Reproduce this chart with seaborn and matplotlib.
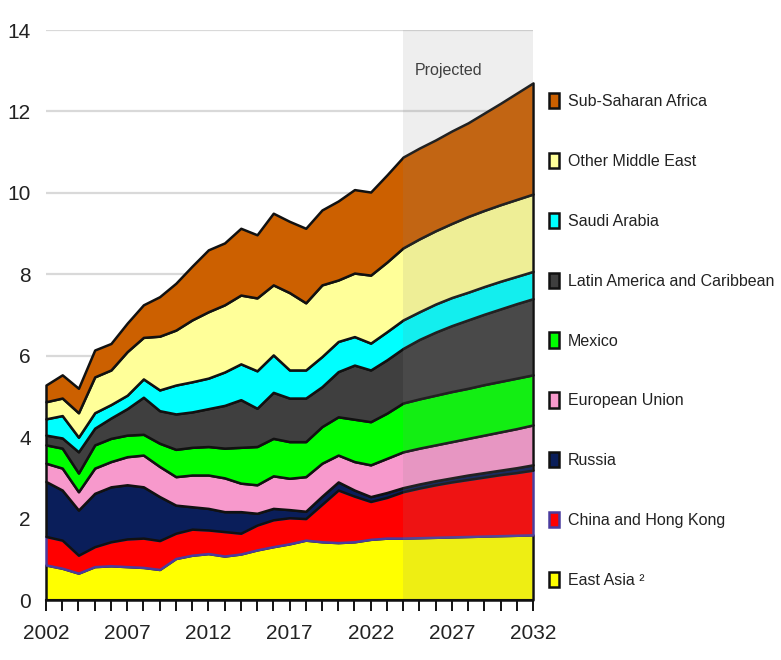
import matplotlib
matplotlib.use("Agg")
import matplotlib.pyplot as plt
import seaborn as sns

years = list(range(2002, 2033))
projection_start = 2024

east_asia = [0.86, 0.78, 0.66, 0.82, 0.84, 0.82, 0.80, 0.75, 1.02, 1.10, 1.14, 1.08, 1.13, 1.23, 1.31, 1.38,
             1.47, 1.43, 1.41, 1.43, 1.49, 1.52, 1.52, 1.53, 1.54, 1.55, 1.56, 1.57, 1.58, 1.59, 1.60]
china_hk = [0.70, 0.69, 0.44, 0.49, 0.59, 0.68, 0.72, 0.71, 0.62, 0.64, 0.58, 0.60, 0.51, 0.61, 0.66, 0.64,
            0.53, 0.92, 1.29, 1.12, 0.93, 1.00, 1.14, 1.22, 1.29, 1.35, 1.40, 1.45, 1.50, 1.54, 1.59]
russia = [1.35, 1.23, 1.11, 1.31, 1.35, 1.33, 1.26, 1.08, 0.69, 0.55, 0.53, 0.49, 0.53, 0.29, 0.28, 0.20,
          0.18, 0.20, 0.20, 0.15, 0.12, 0.12, 0.10, 0.10, 0.10, 0.10, 0.11, 0.11, 0.11, 0.12, 0.13]
european_union = [0.45, 0.54, 0.45, 0.62, 0.62, 0.69, 0.78, 0.74, 0.70, 0.78, 0.82, 0.83, 0.70, 0.70, 0.80, 0.77,
                  0.85, 0.81, 0.66, 0.70, 0.78, 0.84, 0.88, 0.88, 0.88, 0.89, 0.90, 0.92, 0.94, 0.96, 0.98]
mexico = [0.45, 0.49, 0.46, 0.57, 0.57, 0.53, 0.51, 0.57, 0.67, 0.68, 0.70, 0.73, 0.88, 0.94, 0.92, 0.90,
          0.86, 0.90, 0.94, 1.04, 1.06, 1.11, 1.20, 1.21, 1.22, 1.23, 1.23, 1.24, 1.24, 1.24, 1.23]
latin_america = [0.24, 0.25, 0.52, 0.41, 0.50, 0.65, 0.91, 0.80, 0.87, 0.87, 0.93, 1.05, 1.17, 0.94, 1.13, 1.07,
                 1.07, 0.98, 1.11, 1.33, 1.27, 1.31, 1.34, 1.46, 1.55, 1.62, 1.68, 1.73, 1.78, 1.83, 1.87]
saudi_arabia = [0.40, 0.55, 0.36, 0.38, 0.33, 0.33, 0.45, 0.51, 0.71, 0.74, 0.75, 0.82, 0.88, 0.92, 0.92, 0.69,
                0.69, 0.74, 0.74, 0.70, 0.66, 0.69, 0.70, 0.68, 0.69, 0.69, 0.68, 0.68, 0.68, 0.67, 0.67]
other_middle_east = [0.42, 0.43, 0.60, 0.88, 0.85, 1.07, 1.02, 1.32, 1.35, 1.52, 1.63, 1.65, 1.69, 1.79, 1.72, 1.90,
                     1.65, 1.76, 1.51, 1.56, 1.67, 1.71, 1.77, 1.79, 1.80, 1.82, 1.86, 1.87, 1.88, 1.89, 1.90]
sub_saharan_africa = [0.41, 0.57, 0.60, 0.66, 0.65, 0.70, 0.80, 0.97, 1.15, 1.32, 1.52, 1.52, 1.64, 1.55, 1.76, 1.75,
                      1.83, 1.84, 1.94, 2.05, 2.04, 2.14, 2.23, 2.23, 2.23, 2.27, 2.30, 2.39, 2.49, 2.61, 2.73]

labels = ["East Asia ²", "China and Hong Kong", "Russia", "European Union", "Mexico",
          "Latin America and Caribbean", "Saudi Arabia", "Other Middle East", "Sub-Saharan Africa"]
series = [east_asia, china_hk, russia, european_union, mexico,
          latin_america, saudi_arabia, other_middle_east, sub_saharan_africa]
colors = ["#FFFF00", "#FF0000", "#0A1E5A", "#F799CC", "#00FF00",
          "#3F3F3F", "#00FFFF", "#FFFF99", "#CC6000"]
edges = ["#111111", "#4B3C9E", "#111111", "#111111", "#111111",
         "#111111", "#111111", "#111111", "#111111"]

sns.set_theme(style="white")
plt.rcParams["font.family"] = ["Liberation Sans Narrow", "Liberation Sans", "DejaVu Sans"]

fig = plt.figure(figsize=(7.81, 6.60), dpi=100)
ax = fig.add_axes([46 / 781, 60 / 660, 487 / 781, 570 / 660])

# horizontal gridlines behind the stacked areas
for v in range(2, 15, 2):
    ax.axhline(v, color="#D9D9D9", lw=1.6, zorder=0)

polys = ax.stackplot(years, *series, labels=labels, colors=colors, zorder=2)
for poly, ec in zip(polys, edges):
    poly.set_edgecolor(ec)
    poly.set_linewidth(1.8)
    poly.set_clip_on(False)

# projection period shading
ax.axvspan(projection_start, years[-1], ymin=0, ymax=1, color="#878787", alpha=0.14, lw=0, zorder=3)
ax.text(2024.7, 13.0, "Projected", fontsize=11.5, color="#404040", va="center", ha="left", zorder=4)

ax.set_xlim(years[0], years[-1])
ax.set_ylim(0, 14)
ax.set_yticks(range(0, 15, 2))
ax.set_yticklabels([str(v) for v in range(0, 15, 2)])
ax.set_xticks(years)
ax.set_xticklabels([str(y) if (y - 2002) % 5 == 0 else "" for y in years])

ax.tick_params(axis="y", length=0, pad=11, labelsize=15, labelcolor="#222222")
ax.tick_params(axis="x", length=8, width=1.4, direction="out", color="#111111",
               pad=9, labelsize=15, labelcolor="#222222", bottom=True)

for side in ["left", "top", "right"]:
    ax.spines[side].set_visible(False)
ax.spines["bottom"].set_color("#111111")
ax.spines["bottom"].set_linewidth(1.5)
ax.spines["bottom"].set_zorder(5)

handles, lbls = ax.get_legend_handles_labels()
leg = fig.legend(handles[::-1], lbls[::-1], loc="upper left", bbox_to_anchor=(549 / 781, 1 - 93 / 660),
                 frameon=False, fontsize=11.5, handlelength=0.65, handleheight=1.1, handletextpad=0.55,
                 labelspacing=2.74, borderaxespad=0, borderpad=0)
for t in leg.get_texts():
    t.set_color("#222222")

fig.savefig("out.png", dpi=100, facecolor="white")
